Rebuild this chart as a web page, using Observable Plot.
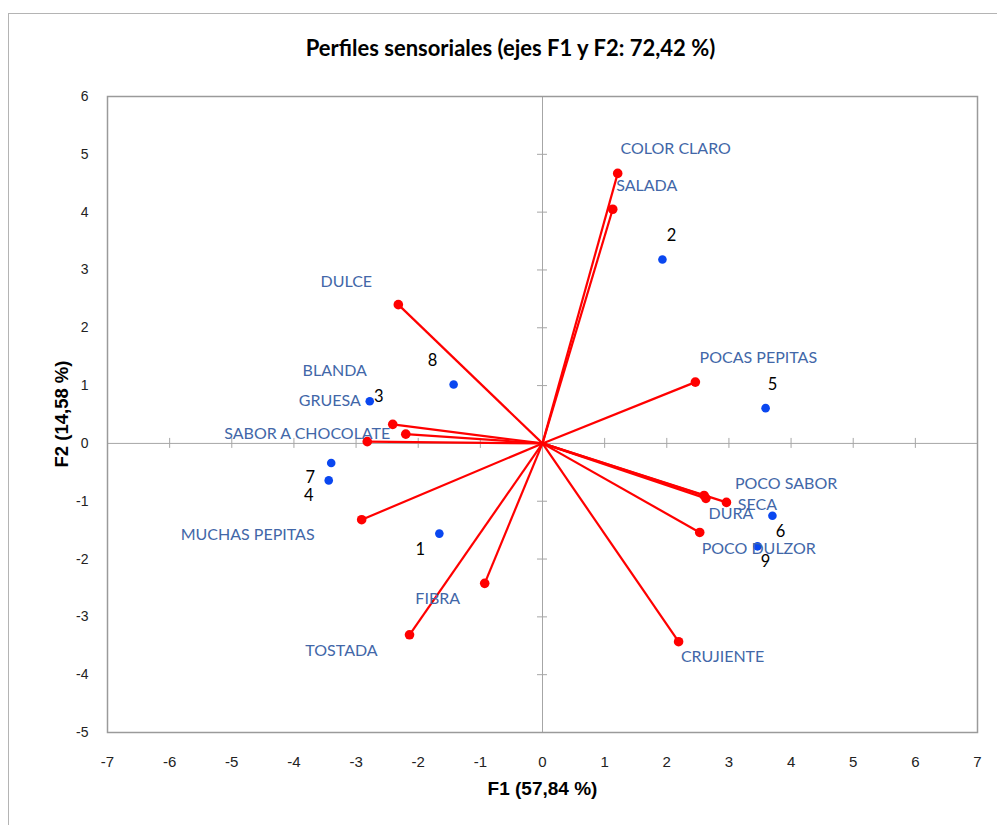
<!DOCTYPE html>
<html><head><meta charset="utf-8">
<script src="https://cdn.jsdelivr.net/npm/d3@7"></script>
<script src="https://cdn.jsdelivr.net/npm/@observablehq/plot@0.6"></script>
<style>
html,body{margin:0;padding:0;background:#fff;overflow:hidden;width:997px;height:825px;}
#border{position:absolute;left:8px;top:13px;width:1200px;height:1000px;border:1.5px solid #b4b4b4;}
#chart{position:absolute;left:0;top:0;}
</style></head><body>
<div id="border"></div>
<div id="chart"></div>
<script>
// Variables (red vectors)
const variables = ["COLOR CLARO","SALADA","DULCE","POCAS PEPITAS","BLANDA","GRUESA","SABOR A CHOCOLATE","MUCHAS PEPITAS","TOSTADA","FIBRA","CRUJIENTE","POCO DULZOR","DURA","POCO SABOR","SECA"];
const varF1 = [1.21, 1.13, -2.32, 2.46, -2.41, -2.20, -2.82, -2.91, -2.14, -0.93, 2.19, 2.53, 2.63, 2.60, 2.96];
const varF2 = [4.67, 4.05, 2.40, 1.06, 0.33, 0.16, 0.03, -1.32, -3.31, -2.42, -3.43, -1.54, -0.95, -0.90, -1.02];
// Observations (blue points)
const observations = ["1","2","3","4","5","6","7","8","9"];
const obsF1 = [-1.66, 1.93, -2.78, -3.44, 3.59, 3.70, -3.40, -1.43, 3.46];
const obsF2 = [-1.56, 3.18, 0.73, -0.64, 0.61, -1.25, -0.34, 1.02, -1.78];
// Tick labels
const xTicks = [-7,-6,-5,-4,-3,-2,-1,0,1,2,3,4,5,6,7];
const yTicks = [-5,-4,-3,-2,-1,0,1,2,3,4,5,6];
const title = "Perfiles sensoriales (ejes F1 y F2: 72,42 %)";
const xTitle = "F1 (57,84 %)";
const yTitle = "F2 (14,58 %)";

// Label layout (pixel offsets from each point), kept apart from the data
const varLabelOffsets = [[58,-25],[34,-23],[-52,-23],[63,-24],[-58,-53],[-76,-33],[-60,-8],[-114,15],[-68,16],[-47,16],[44,15],[59,16],[25,16],[82,-12],[31,2]];
const obsLabelOffsets = [[-19,16],[9,-24],[9,-4],[-20,15],[7,-23],[8,16],[-21,15],[-21,-24],[8,15]];

const vars = variables.map((name,i) => ({name, f1: varF1[i], f2: varF2[i]}));
const obs = observations.map((name,i) => ({name, f1: obsF1[i], f2: obsF2[i]}));

const labelFont = "Lato, 'Open Sans', sans-serif";
const labelColor = "#4267a8";
const red = "#ff0000";
const blue = "#0a47f0";
const axisGray = "#a6a6a6";
const fmt = d => String(d);

const chart = Plot.plot({
  width: 997,
  height: 825,
  marginLeft: 107,
  marginRight: 20,
  marginTop: 96,
  marginBottom: 93,
  style: {background: "transparent", overflow: "visible"},
  x: {domain: [-7, 7]},
  y: {domain: [-5, 6]},
  marks: [
    // zero axes
    Plot.ruleX([0], {stroke: axisGray, strokeWidth: 1}),
    Plot.ruleY([0], {stroke: axisGray, strokeWidth: 1}),
    Plot.ruleX(xTicks, {x: d => d, y1: 0, y2: 0, insetTop: -5, insetBottom: -5, stroke: axisGray}),
    Plot.ruleY(yTicks, {y: d => d, x1: 0, x2: 0, insetLeft: -5, insetRight: -5, stroke: axisGray}),
    Plot.frame({stroke: "#9a9a9a", strokeWidth: 1.5}),
    // axes
    Plot.axisX(xTicks, {tickSize: 0, tickPadding: 24, tickFormat: fmt, fontSize: 15, fontFamily: "'Liberation Sans Narrow', 'Liberation Sans', sans-serif", fill: "#222", label: null}),
    Plot.axisY(yTicks, {tickSize: 0, tickPadding: 19, tickFormat: fmt, fontSize: 14, fontFamily: "'Liberation Sans', Arial, sans-serif", fill: "#222", label: null}),
    // vectors
    Plot.link(vars, {x1: 0, y1: 0, x2: "f1", y2: "f2", stroke: red, strokeWidth: 2.2}),
    Plot.dot(vars, {x: "f1", y: "f2", r: 4.8, fill: red}),
    // observations
    Plot.dot(obs, {x: "f1", y: "f2", r: 4.3, fill: blue}),
    // labels
    ...vars.map((d, i) => Plot.text([d], {x: "f1", y: "f2", text: "name", dx: varLabelOffsets[i][0], dy: varLabelOffsets[i][1], fill: labelColor, fontSize: 16, fontFamily: labelFont, textAnchor: "middle"})),
    ...obs.map((d, i) => Plot.text([d], {x: "f1", y: "f2", text: "name", dx: obsLabelOffsets[i][0], dy: obsLabelOffsets[i][1], fill: "#000", fontSize: 16.5, fontFamily: labelFont, textAnchor: "middle"})),
    // titles
    Plot.text([title], {frameAnchor: "top", dx: -32, dy: -48, text: d => d, fontSize: 22, fontWeight: "bold", fontFamily: labelFont, fill: "#000", lineAnchor: "middle"}),
    Plot.text([xTitle], {frameAnchor: "bottom", dy: 56, text: d => d, fontSize: 19, fontWeight: "bold", fontFamily: "'Liberation Sans Narrow', 'Liberation Sans', sans-serif", fill: "#000", lineAnchor: "middle"})
  ]
});
// Y-axis title, centred on the plot frame
d3.select(chart).append("text")
  .attr("transform", "translate(62,414) rotate(-90)")
  .attr("text-anchor", "middle")
  .attr("dy", "0.35em")
  .attr("font-family", "'Liberation Sans', Arial, sans-serif")
  .attr("font-size", 18.5)
  .attr("font-weight", "bold")
  .attr("fill", "#000")
  .text(yTitle);
document.getElementById("chart").appendChild(chart);
</script>
</body></html>
